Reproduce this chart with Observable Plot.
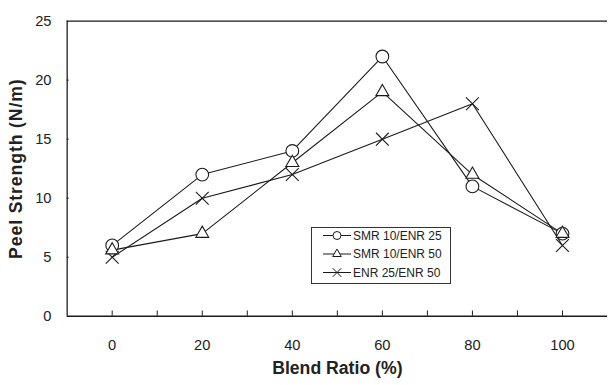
<!DOCTYPE html>
<html>
<head>
<meta charset="utf-8">
<script src="https://cdn.jsdelivr.net/npm/d3@7"></script>
<script src="https://cdn.jsdelivr.net/npm/@observablehq/plot@0.6"></script>
<style>
  html, body { margin: 0; padding: 0; background: #fff; }
  #wrap { position: relative; width: 608px; height: 385px; overflow: hidden; }
  #legend { position: absolute; left: 311px; top: 227px; width: 140px; height: 57px;
            border: 1px solid #333; background: #fff; box-sizing: border-box; }
  #legend svg { position: absolute; left: 0; top: 0; }
</style>
</head>
<body>
<div id="wrap"><div id="legend"></div></div>
<script>
// ---- data ----
const blendRatio = [0, 20, 40, 60, 80, 100];
const seriesNames = ["SMR 10/ENR 25", "SMR 10/ENR 50", "ENR 25/ENR 50"];
const smr10enr25 = [6, 12, 14, 22, 11, 7];
const smr10enr50 = [5.6, 7, 13, 19, 12, 7];
const enr25enr50 = [5, 10, 12, 15, 18, 6];
const xTicks = [0, 20, 40, 60, 80, 100];
const xMinorTicks = [0, 10, 20, 30, 40, 50, 60, 70, 80, 90, 100];
const yTicks = [0, 5, 10, 15, 20, 25];

const seriesValues = [smr10enr25, smr10enr50, enr25enr50];
const rows = [];
seriesNames.forEach((s, i) => blendRatio.forEach((x, j) => rows.push({series: s, x, y: seriesValues[i][j], j})));

// marker drawing order: triangle at 0 hidden under circle, otherwise circles, triangles, crosses
const markerRows = [
  ...rows.filter(d => d.series === seriesNames[1] && d.j === 0),
  ...rows.filter(d => d.series === seriesNames[0]),
  ...rows.filter(d => d.series === seriesNames[1] && d.j !== 0),
  ...rows.filter(d => d.series === seriesNames[2])
];
const symbolRange = ["circle", "triangle", "times"];
const symbolR = {[seriesNames[0]]: 6.5, [seriesNames[1]]: 4.9, [seriesNames[2]]: 6};

const ink = "#1a1a1a";
const font = "'Liberation Sans', Arial, Helvetica, sans-serif";

const chart = Plot.plot({
  width: 620,
  height: 385,
  marginLeft: 68,
  marginRight: 1,
  marginTop: 21,
  marginBottom: 63,
  style: {fontFamily: font, color: ink, background: "white", overflow: "visible"},
  x: {domain: [-10, 110]},
  y: {domain: [0, 25]},
  r: {type: "identity"},
  symbol: {domain: seriesNames, range: symbolRange},
  marks: [
    Plot.ruleY([0, 25], {stroke: ink, strokeWidth: 1.3}),
    Plot.ruleX([-10], {stroke: ink, strokeWidth: 1.3}),
    Plot.ruleX(xMinorTicks, {x: d => d, y1: 0, y2: 0.45, stroke: ink, strokeWidth: 1}),
    Plot.ruleY(yTicks.slice(1, -1), {y: d => d, x1: -10, x2: -9.55, stroke: ink, strokeWidth: 1}),
    Plot.axisX({ticks: xTicks, tickSize: 0, tickPadding: 24, fontSize: 15, label: null, fill: "#222"}),
    Plot.axisY({ticks: yTicks, tickSize: 0, tickPadding: 16, fontSize: 15, label: null, fill: "#222"}),
    Plot.text(["Blend Ratio (%)"], {frameAnchor: "bottom", dy: 53, text: d => d, fontSize: 18,
      fontWeight: "bold", fill: "#222", textAnchor: "middle", lineAnchor: "middle",
      style: "letter-spacing:0.4px"}),
    Plot.text(["Peel Strength (N/m)"], {frameAnchor: "left", dx: -51.5, text: d => d, fontSize: 18,
      fontWeight: "bold", fill: "#222", rotate: -90, textAnchor: "middle", lineAnchor: "middle"}),
    Plot.line(rows, {x: "x", y: "y", z: "series", stroke: ink, strokeWidth: 1.1}),
    Plot.dot(markerRows, {x: "x", y: "y", symbol: "series", r: d => symbolR[d.series],
      fill: "white", stroke: ink, strokeWidth: 1.1})
  ]
});
chart.querySelectorAll("g[aria-label='text'] text").forEach(t => {
  if (t.textContent === "Peel Strength (N/m)") t.style.letterSpacing = "0.9px";
});
const wrap = document.getElementById("wrap");
wrap.insertBefore(chart, wrap.firstChild);

// ---- legend ----
const legendSvg = d3.select("#legend").append("svg").attr("width", 140).attr("height", 57);
const legendR = [4, 3.2, 4];
const legendSym = [d3.symbolCircle, d3.symbolTriangle, d3.symbolTimes];
seriesNames.forEach((name, i) => {
  const cy = 7.5 + i * 18.5;
  const g = legendSvg.append("g");
  g.append("line").attr("x1", 11).attr("x2", 39).attr("y1", cy).attr("y2", cy)
    .attr("stroke", ink).attr("stroke-width", 1);
  g.append("path").attr("d", d3.symbol(legendSym[i], Math.PI * legendR[i] * legendR[i])())
    .attr("transform", `translate(25,${cy})`).attr("fill", "white").attr("stroke", ink).attr("stroke-width", 1);
  g.append("text").attr("x", 41).attr("y", cy).attr("dy", "0.36em").attr("font-size", 12)
    .attr("font-family", font).attr("fill", "#222").text(name);
});
</script>
</body>
</html>
